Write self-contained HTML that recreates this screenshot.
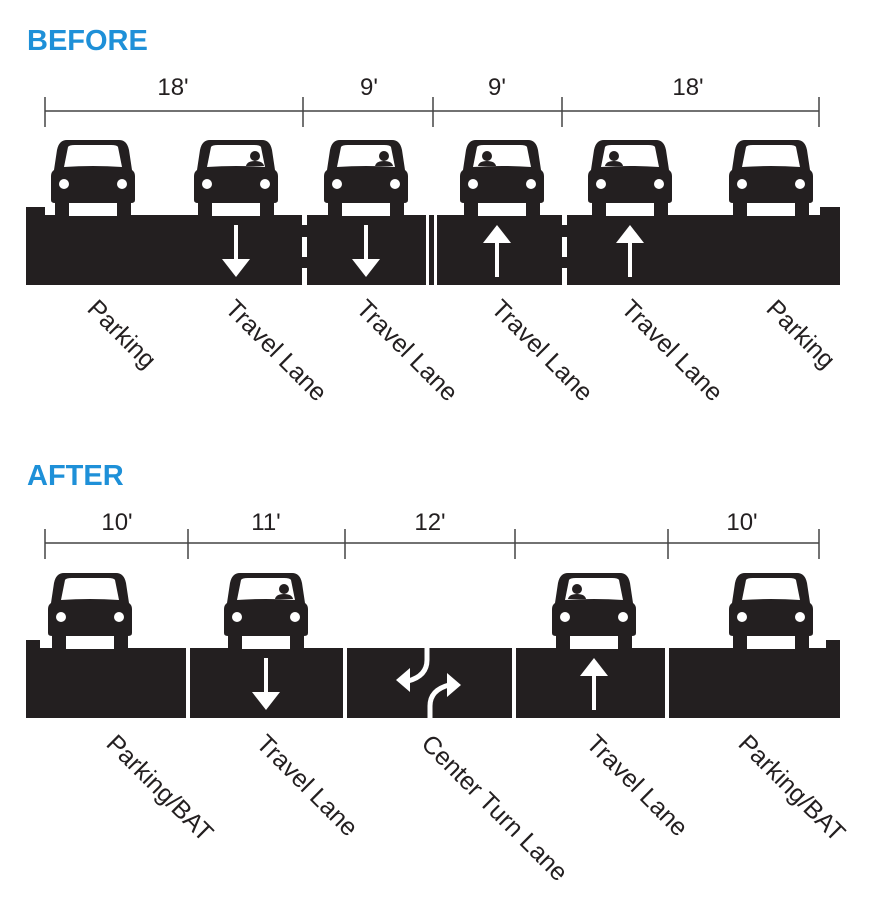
<!DOCTYPE html>
<html><head><meta charset="utf-8"><style>
body{margin:0;background:#fff;}
svg{display:block;font-family:"Liberation Sans",sans-serif;}
</style></head><body>
<svg width="887" height="905" viewBox="0 0 887 905">
<defs>
<g id="car">
<path d="M16,0 H68 Q76,0 78,10 L81,30 Q84,32 84,36 V60 Q84,63 80,63 V76 H66 V63 H18 V76 H4 V63 Q0,63 0,60 V36 Q0,32 3,30 L6,10 Q8,0 16,0 Z" fill="#231f20"/>
<path d="M17,7 Q18,5 24,5 H60 Q66,5 67,7 L71,27 Q42,25 13,27 Z" fill="#fff"/>
<circle cx="13" cy="44" r="5" fill="#fff"/><circle cx="71" cy="44" r="5" fill="#fff"/>
<rect x="18" y="63" width="48" height="13" fill="#fff"/>
</g>
<g id="drv"><circle cx="0" cy="0" r="5" fill="#231f20"/><path d="M-9,10 Q-8,5 0,5 Q8,5 9,10 Z" fill="#231f20"/></g>
<g id="down"><rect x="-2" y="0" width="4" height="36" fill="#fff"/><path d="M-14,34 H14 L0,52 Z" fill="#fff"/></g>
</defs>
<text x="27" y="50" font-size="29" font-weight="bold" fill="#1e90d8">BEFORE</text>
<text x="27" y="485" font-size="29" font-weight="bold" fill="#1e90d8">AFTER</text>
<g stroke="#444" stroke-width="1.5">
<line x1="45" y1="111" x2="819" y2="111"/>
<line x1="45" y1="97" x2="45" y2="127"/><line x1="303" y1="97" x2="303" y2="127"/><line x1="433" y1="97" x2="433" y2="127"/><line x1="562" y1="97" x2="562" y2="127"/><line x1="819" y1="97" x2="819" y2="127"/>
<line x1="45" y1="543" x2="819" y2="543"/>
<line x1="45" y1="529" x2="45" y2="559"/><line x1="188" y1="529" x2="188" y2="559"/><line x1="345" y1="529" x2="345" y2="559"/><line x1="515" y1="529" x2="515" y2="559"/><line x1="668" y1="529" x2="668" y2="559"/><line x1="819" y1="529" x2="819" y2="559"/>
</g>
<g font-size="24" fill="#231f20" text-anchor="middle">
<text x="173" y="95">18'</text><text x="369" y="95">9'</text><text x="497" y="95">9'</text><text x="688" y="95">18'</text>
<text x="117" y="530">10'</text><text x="266" y="530">11'</text><text x="430" y="530">12'</text><text x="742" y="530">10'</text>
</g>
<rect x="26" y="207" width="19" height="10" fill="#231f20"/><rect x="820" y="207" width="20" height="10" fill="#231f20"/>
<rect x="26" y="215" width="814" height="70" fill="#231f20"/>
<g fill="#fff">
<rect x="302" y="215" width="5" height="10"/><rect x="302" y="237" width="5" height="20"/><rect x="302" y="268" width="5" height="17"/>
<rect x="562" y="215" width="5" height="10"/><rect x="562" y="237" width="5" height="20"/><rect x="562" y="268" width="5" height="17"/>
<rect x="426" y="215" width="3" height="70"/><rect x="434" y="215" width="3" height="70"/>
</g>
<use href="#down" x="236" y="225"/><use href="#down" x="366" y="225"/>
<use href="#down" transform="translate(497,277) scale(1,-1)"/><use href="#down" transform="translate(630,277) scale(1,-1)"/>
<use href="#car" x="51" y="140"/><use href="#car" x="194" y="140"/><use href="#car" x="324" y="140"/><use href="#car" x="460" y="140"/><use href="#car" x="588" y="140"/><use href="#car" x="729" y="140"/>
<use href="#drv" x="255" y="156"/><use href="#drv" x="384" y="156"/><use href="#drv" x="487" y="156"/><use href="#drv" x="614" y="156"/>
<rect x="26" y="640" width="14" height="10" fill="#231f20"/><rect x="826" y="640" width="14" height="10" fill="#231f20"/>
<rect x="26" y="648" width="814" height="70" fill="#231f20"/>
<g fill="#fff"><rect x="186" y="648" width="4" height="70"/><rect x="343" y="648" width="4" height="70"/><rect x="512" y="648" width="4" height="70"/><rect x="665" y="648" width="4" height="70"/></g>
<use href="#down" x="266" y="658"/><use href="#down" transform="translate(594,710) scale(1,-1)"/>
<g fill="none" stroke="#fff" stroke-width="5"><path d="M427,648 V660 Q427,676 408,681"/><path d="M430,718 V706 Q430,690 449,685"/></g>
<path d="M396,680 L410,668 L410,692 Z" fill="#fff"/><path d="M461,685 L447,673 L447,697 Z" fill="#fff"/>
<use href="#car" x="48" y="573"/><use href="#car" x="224" y="573"/><use href="#car" x="552" y="573"/><use href="#car" x="729" y="573"/>
<use href="#drv" x="284" y="589"/><use href="#drv" x="577" y="589"/>
<g font-size="25" fill="#231f20">
<text transform="translate(86,310) rotate(45)">Parking</text>
<text transform="translate(224,310) rotate(45)">Travel Lane</text>
<text transform="translate(355,310) rotate(45)">Travel Lane</text>
<text transform="translate(490,310) rotate(45)">Travel Lane</text>
<text transform="translate(620,310) rotate(45)">Travel Lane</text>
<text transform="translate(765,310) rotate(45)">Parking</text>
<text transform="translate(105,745) rotate(45)">Parking/BAT</text>
<text transform="translate(255,745) rotate(45)">Travel Lane</text>
<text transform="translate(420,745) rotate(45)">Center Turn Lane</text>
<text transform="translate(585,745) rotate(45)">Travel Lane</text>
<text transform="translate(737,745) rotate(45)">Parking/BAT</text>
</g>
</svg>
</body></html>
